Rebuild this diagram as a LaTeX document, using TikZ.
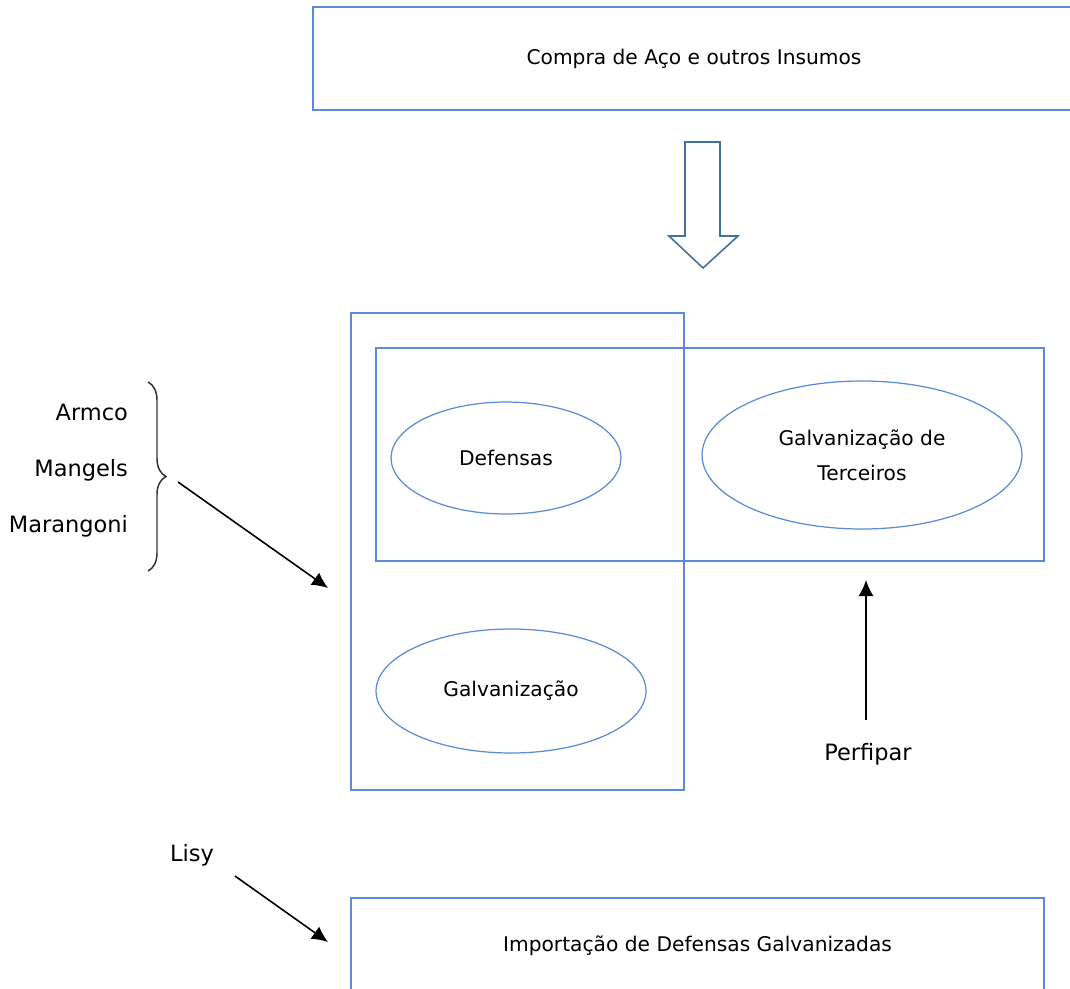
\documentclass[tikz,border=0pt]{standalone}
\usepackage{fontspec}
\setmainfont{DejaVu Sans}
\usepackage{tikz}
\usetikzlibrary{arrows.meta,positioning,shapes.geometric,decorations.pathreplacing}
\definecolor{boxblue}{HTML}{5B8BD6}
\definecolor{shapeblue}{HTML}{41719C}
\definecolor{bracegray}{HTML}{333333}
\tikzset{
  >={Latex[length=3.2mm,width=3mm]},
  framebox/.style={draw=boxblue,line width=0.85pt,inner sep=0pt,
                   font=\fontsize{11.5}{14}\selectfont},
  ovalnode/.style={ellipse,draw=boxblue,line width=0.7pt,inner sep=0pt,
                   align=center,font=\fontsize{11.5}{20}\selectfont},
  labelnode/.style={inner sep=1pt,font=\fontsize{12.8}{15}\selectfont},
  flowarrow/.style={->,line width=0.9pt,draw=black},
  blockarrow/.style={draw=shapeblue,line width=0.9pt,fill=white,line join=miter},
  bracemark/.style={draw=bracegray,line width=0.85pt,decorate,
                    decoration={brace,amplitude=0.36cm}},
}

\begin{document}
\begin{tikzpicture}[x=0.02cm,y=-0.02cm]
  \useasboundingbox (0,0) rectangle (1070,988);
  \clip (0,0) rectangle (1070,988);
  % boxes
  \node[framebox,minimum width=15.24cm,minimum height=2.06cm] (compra) at (694,58.5)
    {Compra de Aço e outros Insumos};
  \node[framebox,minimum width=6.66cm,minimum height=9.54cm] (fabrica) at (517.5,551.5) {};
  \node[framebox,minimum width=13.36cm,minimum height=4.26cm] (servico) at (710,454.5) {};
  \node[framebox,minimum width=13.86cm,minimum height=1.92cm] (importacao) at (697.5,946)
    {Importação de Defensas Galvanizadas};
  % ovals
  \node[ovalnode,minimum width=4.6cm,minimum height=2.24cm] (defensas) at (506,458) {Defensas};
  \node[ovalnode,minimum width=6.4cm,minimum height=2.96cm] (terceiros) at (862,455)
    {Galvanização de\\Terceiros};
  \node[ovalnode,minimum width=5.4cm,minimum height=2.48cm] (galvanizacao) at (511,691) {Galvanização};
  % block arrow
  \draw[blockarrow] (685,142) -- (720,142) -- (720,236) -- (738,236) -- (703,268)
    -- (669,236) -- (685,236) -- cycle;
  % competitors
  \node[labelnode,anchor=east] (armco) at (130,412) {Armco};
  \node[labelnode,anchor=east] (mangels) at (130,470) {Mangels};
  \node[labelnode,anchor=east] (marangoni) at (130,526) {Marangoni};
  \draw[bracemark] (148,382) -- (148,571);
  \coordinate (fromgroup) at (178,482);
  \coordinate (togroup) at (328,588);
  \draw[flowarrow] (fromgroup) -- (togroup);
  \node[labelnode] (perfipar) at (868,754) {Perfipar};
  \coordinate (perfiparbase) at (866,720);
  \coordinate (perfipartip) at (866,580);
  \draw[flowarrow] (perfiparbase) -- (perfipartip);
  \node[labelnode] (lisy) at (192,855) {Lisy};
  \coordinate (lisybase) at (235,876);
  \coordinate (lisytip) at (328,942);
  \draw[flowarrow] (lisybase) -- (lisytip);
\end{tikzpicture}
\end{document}
